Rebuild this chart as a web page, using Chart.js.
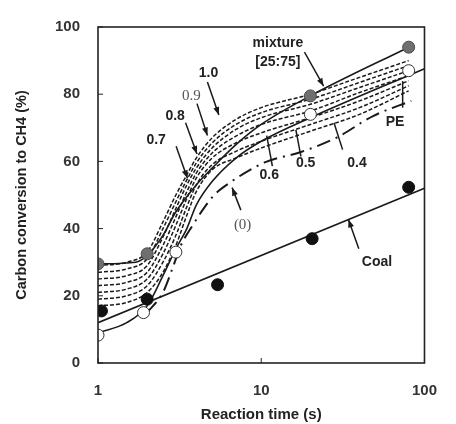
<!DOCTYPE html>
<html>
<head>
<meta charset="utf-8">
<script src="https://cdn.jsdelivr.net/npm/chart.js@4.4.0/dist/chart.umd.min.js"></script>
<style>
body{margin:0;background:#fff;}
#wrap{width:456px;height:424px;}
</style>
</head>
<body>
<div id="wrap"><canvas id="grafica" width="456" height="424"></canvas></div>
<script>
//-------------datos-----------------//
const tiempoCurvas = [1, 1.5, 2, 2.5, 3, 3.5, 4, 5, 7, 10, 20, 40, 80];
const curva10 = [29, 30, 33, 42, 50, 56, 61, 67, 72.5, 76, 80, 85, 90];
const curva09 = [27, 28, 31, 40, 48, 54.5, 59.5, 65.5, 71, 74.5, 78.5, 83.5, 88.5];
const curva08 = [25, 26, 29, 37.5, 46, 53, 58, 64, 69.5, 73, 77, 82, 87];
const curva07 = [23, 24, 27, 35, 43.5, 51, 56.5, 62.5, 67.5, 71, 75, 80.5, 85.5];
const curva06 = [21, 22, 25, 32.5, 41, 49, 55, 61, 65.5, 68.5, 73, 78, 84];
const curva05 = [19, 20, 23, 30, 38, 46.5, 53, 59, 63, 66, 71, 76, 82.5];
const curva04 = [17, 18, 21, 27, 35, 44, 51, 57.5, 61, 64, 69, 74, 81];

// curva (0) punto-raya
const tiempoCero = [2, 2.5, 2.9, 3.22, 3.78, 4.4, 5.15, 6.3, 10.5, 17.5, 29, 48.4, 83];
const curvaCero = [15, 21, 29, 35, 40.8, 45.7, 50, 53.4, 59.7, 62.8, 67.1, 73.5, 78];

// lineas solidas
const tiempoMezcla = [1, 1.7, 2, 2.5, 3, 4, 5, 7, 10, 20, 80];
const lineaMezcla = [29.5, 30, 32, 38, 45, 53, 58, 65, 71, 79.5, 94];
const tiempoPE = [1, 1.5, 2, 2.5, 3, 3.5, 4, 5, 7, 10, 20, 100];
const lineaPE = [9, 12, 17, 26, 34, 40, 47, 54, 61, 66, 73, 87.6];
const tiempoCoal = [1, 100];
const lineaCoal = [12, 52];

// puntos experimentales
const expMezclaX = [1, 2, 20, 80];
const expMezclaY = [29.5, 32.5, 79.5, 94];
const expCoalX = [1.05, 2, 5.4, 20.5, 80];
const expCoalY = [15.5, 19, 23.3, 37, 52.3];
const expPEX = [1, 1.9, 3, 20, 80];
const expPEY = [8.3, 15, 33, 74, 87];

const ticksX = [1, 10, 100];
const ticksY = [0, 20, 40, 60, 80, 100];

// etiquetas [texto, x, y, serif]
const etiquetas = [
	['mixture', 12.65, 95.1, false],
	['[25:75]', 12.65, 89.6, false],
	['1.0', 4.75, 86.2, false],
	['0.9', 3.73, 79.5, true],
	['0.8', 2.97, 73.5, false],
	['0.7', 2.27, 66.3, false],
	['0.6', 11.2, 55.9, false],
	['0.5', 18.7, 59.4, false],
	['0.4', 38.6, 59.4, false],
	['PE', 66, 71.8, false],
	['(0)', 7.69, 41.2, true],
	['Coal', 51.2, 30.0, false]
];
// flechas [x1, y1, x2, y2, punta]
const flechas = [
	[18.4, 92.5, 24.1, 82.4, true],
	[4.68, 83.6, 5.5, 73.8, true],
	[4.04, 77.2, 4.68, 67.7, true],
	[3.44, 71.5, 4.04, 62.2, true],
	[3.01, 64.5, 3.53, 55.0, true],
	[7.5, 45.5, 6.63, 52.2, true],
	[39.6, 34.0, 34.2, 42.7, true],
	[11.7, 58.6, 10.8, 67.7, false],
	[17.5, 61.5, 16.3, 69.4, false],
	[31.5, 63.5, 27.9, 71.5, false],
	[73.5, 76.0, 73.5, 83.9, false]
];
//-----------------------------------//

function puntos(xs, ys){
	return xs.map(function(x, i){ return {x: x, y: ys[i]}; });
}

function curvaDash(ys){
	return {
		data: puntos(tiempoCurvas, ys),
		borderColor: '#1a1a1a',
		borderWidth: 1.5,
		borderDash: [4, 2],
		pointRadius: 0,
		cubicInterpolationMode: 'monotone',
		fill: false
	};
}

const marcoPlugin = {
	id: 'marco',
	afterDatasetsDraw(chart){
		const ctx = chart.ctx;
		const a = chart.chartArea;
		const sx = chart.scales.x;
		const sy = chart.scales.y;
		ctx.save();
		// marco
		ctx.strokeStyle = '#222';
		ctx.lineWidth = 1.6;
		ctx.strokeRect(a.left, a.top, a.right - a.left, a.bottom - a.top);
		// ticks hacia dentro
		ctx.lineWidth = 1;
		ctx.beginPath();
		ticksY.forEach(function(v){
			const py = sy.getPixelForValue(v);
			ctx.moveTo(a.left, py);
			ctx.lineTo(a.left + 5, py);
		});
		ticksX.forEach(function(v){
			const px = sx.getPixelForValue(v);
			ctx.moveTo(px, a.bottom);
			ctx.lineTo(px, a.bottom - 5);
		});
		ctx.stroke();
		// flechas
		ctx.strokeStyle = '#1a1a1a';
		ctx.fillStyle = '#1a1a1a';
		ctx.lineWidth = 1.5;
		flechas.forEach(function(f){
			const x1 = sx.getPixelForValue(f[0]), y1 = sy.getPixelForValue(f[1]);
			const x2 = sx.getPixelForValue(f[2]), y2 = sy.getPixelForValue(f[3]);
			ctx.beginPath();
			ctx.moveTo(x1, y1);
			ctx.lineTo(x2, y2);
			ctx.stroke();
			if (f[4]) {
				const ang = Math.atan2(y2 - y1, x2 - x1);
				ctx.beginPath();
				ctx.moveTo(x2, y2);
				ctx.lineTo(x2 - 8 * Math.cos(ang) + 3 * Math.sin(ang), y2 - 8 * Math.sin(ang) - 3 * Math.cos(ang));
				ctx.lineTo(x2 - 8 * Math.cos(ang) - 3 * Math.sin(ang), y2 - 8 * Math.sin(ang) + 3 * Math.cos(ang));
				ctx.closePath();
				ctx.fill();
			}
		});
		// textos
		ctx.textAlign = 'center';
		ctx.textBaseline = 'middle';
		etiquetas.forEach(function(e){
			if (e[3]) {
				ctx.font = '15px "Liberation Serif", serif';
				ctx.fillStyle = '#555';
			} else {
				ctx.font = 'bold 14px "Liberation Sans", Arial, sans-serif';
				ctx.fillStyle = '#222';
			}
			ctx.fillText(e[0], sx.getPixelForValue(e[1]), sy.getPixelForValue(e[2]));
		});
		ctx.restore();
	}
};

const datasets = [
	{
		data: puntos(expPEX, expPEY),
		showLine: false,
		pointRadius: 6,
		pointBackgroundColor: '#fff',
		pointBorderColor: '#333',
		pointBorderWidth: 1
	},
	{
		data: puntos(expCoalX, expCoalY),
		showLine: false,
		pointRadius: 6,
		pointBackgroundColor: '#111',
		pointBorderColor: '#111',
		pointBorderWidth: 1
	},
	{
		data: puntos(expMezclaX, expMezclaY),
		showLine: false,
		pointRadius: 6,
		pointBackgroundColor: '#6f6f6f',
		pointBorderColor: '#4a4a4a',
		pointBorderWidth: 1
	},
	{
		data: puntos(tiempoMezcla, lineaMezcla),
		borderColor: '#1a1a1a',
		borderWidth: 1.6,
		pointRadius: 0,
		cubicInterpolationMode: 'monotone'
	},
	{
		data: puntos(tiempoPE, lineaPE),
		borderColor: '#1a1a1a',
		borderWidth: 1.6,
		pointRadius: 0,
		cubicInterpolationMode: 'monotone'
	},
	{
		data: puntos(tiempoCoal, lineaCoal),
		borderColor: '#1a1a1a',
		borderWidth: 1.6,
		pointRadius: 0
	},
	{
		data: puntos(tiempoCero, curvaCero),
		borderColor: '#1a1a1a',
		borderWidth: 2,
		borderDash: [14, 6, 2, 6],
		pointRadius: 0,
		cubicInterpolationMode: 'monotone'
	},
	curvaDash(curva10),
	curvaDash(curva09),
	curvaDash(curva08),
	curvaDash(curva07),
	curvaDash(curva06),
	curvaDash(curva05),
	curvaDash(curva04)
];

const fuenteTicks = {family: '"Liberation Sans", Arial, sans-serif', size: 15, weight: 'bold'};

new Chart(document.getElementById('grafica').getContext('2d'), {
	type: 'line',
	data: {datasets: datasets},
	plugins: [marcoPlugin],
	options: {
		responsive: false,
		animation: false,
		layout: {padding: {top: 16, right: 15, left: 0, bottom: 0}},
		plugins: {legend: {display: false}, tooltip: {enabled: false}},
		scales: {
			x: {
				type: 'logarithmic',
				min: 1,
				max: 100,
				grid: {display: false, drawTicks: false},
				border: {display: false},
				afterBuildTicks: function(scale){
					scale.ticks = ticksX.map(function(v){ return {value: v}; });
				},
				afterFit: function(scale){ scale.height = 61; },
				ticks: {
					font: fuenteTicks,
					color: '#333',
					padding: 19,
					autoSkip: false,
					maxRotation: 0,
					callback: function(v){ return String(v); }
				},
				title: {
					display: true,
					text: 'Reaction time (s)',
					font: {family: '"Liberation Sans", Arial, sans-serif', size: 15, weight: 'bold'},
					color: '#222',
					padding: {top: 0, bottom: 0}
				}
			},
			y: {
				min: 0,
				max: 100,
				grid: {display: false, drawTicks: false},
				border: {display: false},
				afterBuildTicks: function(scale){
					scale.ticks = ticksY.map(function(v){ return {value: v}; });
				},
				afterFit: function(scale){ scale.width = 98; },
				ticks: {
					font: fuenteTicks,
					color: '#333',
					padding: 18
				},
				title: {
					display: true,
					text: 'Carbon conversion to CH4 (%)',
					font: {family: '"Liberation Sans", Arial, sans-serif', size: 14.5, weight: 'bold'},
					color: '#222',
					padding: {top: 13, bottom: 0}
				}
			}
		}
	}
});
</script>
</body>
</html>
